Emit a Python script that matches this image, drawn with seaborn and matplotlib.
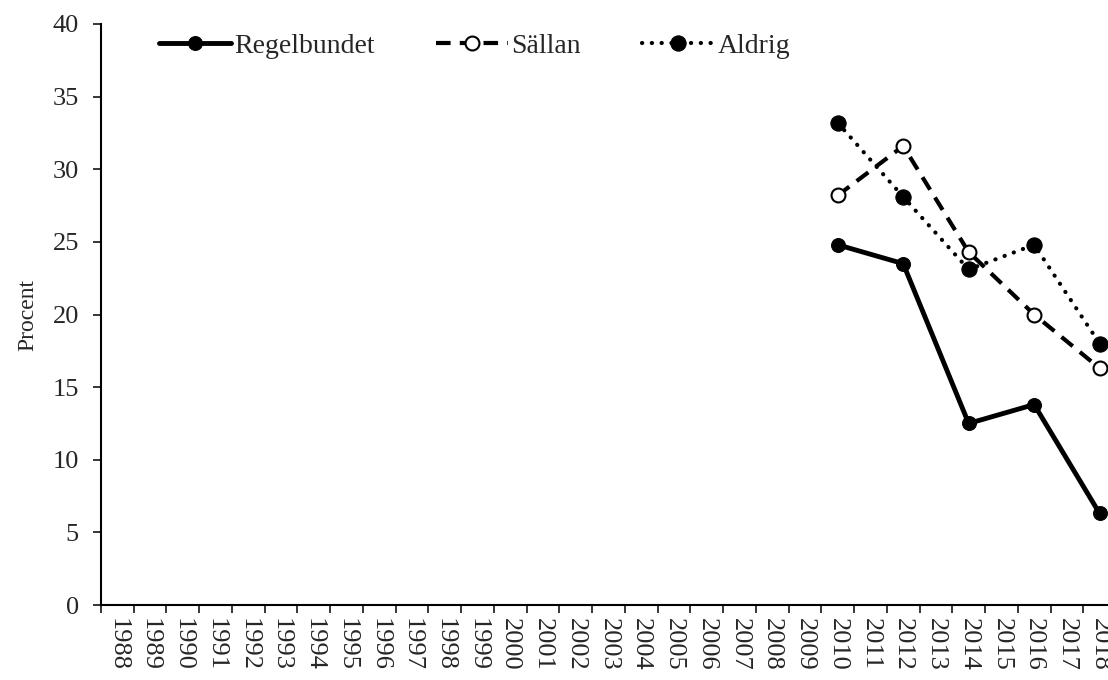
import numpy as np
import pandas as pd
import matplotlib
matplotlib.use('Agg')
import matplotlib.pyplot as plt
import seaborn as sns

years = list(range(1988, 2019))
survey_years = [2010, 2012, 2014, 2016, 2018]
regelbundet = [24.8, 23.5, 12.5, 13.8, 6.3]
sallan = [28.2, 31.6, 24.3, 20.0, 16.3]
aldrig = [33.2, 28.1, 23.1, 24.8, 18.0]
y_ticks = [0, 5, 10, 15, 20, 25, 30, 35, 40]

sns.set_theme(style='white')
plt.rcParams['font.family'] = ['Liberation Serif', 'DejaVu Serif']

df = pd.DataFrame({'year': survey_years, 'Regelbundet': regelbundet,
                   'Sällan': sallan, 'Aldrig': aldrig})

fig = plt.figure(figsize=(11.08, 6.8), dpi=100)
ax = fig.add_axes([101 / 1108, 75 / 680, 1015 / 1108, 581 / 680])

sns.lineplot(data=df, x='year', y='Regelbundet', ax=ax, color='black',
             linewidth=3.5, marker='o', markersize=10, markerfacecolor='black',
             markeredgecolor='black', label='Regelbundet')
sns.lineplot(data=df, x='year', y='Sällan', ax=ax, color='black',
             linewidth=3, marker='o', markersize=10, markerfacecolor='white',
             markeredgecolor='black', markeredgewidth=1.5, label='Sällan')
sns.lineplot(data=df, x='year', y='Aldrig', ax=ax, color='black',
             linewidth=3, marker='o', markersize=11, markerfacecolor='black',
             markeredgecolor='black', label='Aldrig')

lines = ax.get_lines()
lines[1].set_dashes([3.5, 2.2])
lines[2].set_dashes([0.05, 2.3])
lines[2].set_dash_capstyle('round')

ax.set_xlim(1987.5, 2018.5)
ax.set_ylim(0, 40)
ax.set_yticks(y_ticks)
ax.set_xticks([y - 0.5 for y in years] + [2018.5])
ax.set_xticklabels([])
ax.set_xticks(years, minor=True)
ax.set_xticklabels([str(y) for y in years], minor=True, rotation=270, fontsize=19)
ax.tick_params(axis='x', which='major', direction='out', length=6, width=1.3, bottom=True)
ax.tick_params(axis='x', which='minor', length=0, pad=9, bottom=True)
ax.tick_params(axis='y', direction='out', length=6, width=1.3, left=True,
               labelsize=19, pad=10)

ax.set_xlabel('')
ax.set_ylabel('Procent', fontsize=17, labelpad=10)

for side in ['top', 'right']:
    ax.spines[side].set_visible(False)
for side in ['left', 'bottom']:
    ax.spines[side].set_color('black')
    ax.spines[side].set_linewidth(1.5)

ax.legend(loc='center left', bbox_to_anchor=(0.057, 0.962), ncol=3, frameon=False,
          fontsize=20, handlelength=2.6, handletextpad=0.12, columnspacing=2.2,
          borderaxespad=0, borderpad=0)

fig.savefig('out.png', dpi=100)
